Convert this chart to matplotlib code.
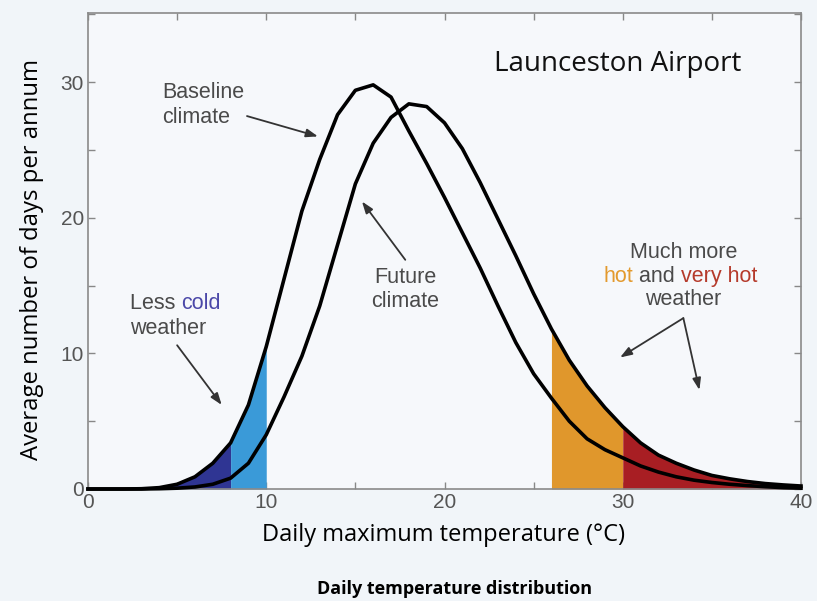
import numpy as np
import matplotlib.pyplot as plt
import matplotlib.ticker as mt

plt.rcParams['font.family'] = ['Liberation Sans', 'DejaVu Sans']

temp = np.arange(0, 41)
baseline = [0, 0, 0, 0.02, 0.1, 0.35, 0.9, 1.9, 3.4, 6.2,
            10.5, 15.5, 20.5, 24.3, 27.6, 29.4, 29.8, 28.9, 26.4, 24.0,
            21.5, 18.9, 16.3, 13.5, 10.8, 8.5, 6.7, 5.0, 3.7, 2.9,
            2.3, 1.7, 1.25, 0.9, 0.65, 0.48, 0.35, 0.25, 0.17, 0.1, 0.06]
future = [0, 0, 0, 0, 0.02, 0.06, 0.15, 0.35, 0.8, 1.9,
          4.0, 6.8, 9.8, 13.5, 18.0, 22.5, 25.5, 27.4, 28.4, 28.2,
          27.0, 25.1, 22.6, 19.9, 17.2, 14.4, 11.8, 9.5, 7.6, 6.0,
          4.6, 3.4, 2.5, 1.9, 1.4, 1.0, 0.75, 0.55, 0.4, 0.3, 0.22]

very_cold_max, cold_max = 8, 10
hot_min, very_hot_min = 26, 30

c_very_cold = '#2f3593'
c_cold = '#3a9ad8'
c_hot = '#e0972c'
c_very_hot = '#a81e23'
grey_txt = '#4a4a4a'

fig = plt.figure(figsize=(8.17, 6.01), dpi=100, facecolor='#f1f5f9')
ax = fig.add_axes([88/817, 1 - 489/601, (801 - 88)/817, (489 - 13)/601])
ax.set_facecolor('#f6f8fb')

b = np.array(baseline)
f = np.array(future)
ax.fill_between(temp, b, where=temp <= very_cold_max, color=c_very_cold, lw=0, zorder=2)
ax.fill_between(temp, b, where=(temp >= very_cold_max) & (temp <= cold_max), color=c_cold, lw=0, zorder=2)
ax.fill_between(temp, f, where=(temp >= hot_min) & (temp <= very_hot_min), color=c_hot, lw=0, zorder=2)
ax.fill_between(temp, f, where=temp >= very_hot_min, color=c_very_hot, lw=0, zorder=2)

ax.plot(temp, baseline, color='black', lw=2.6, zorder=3, clip_on=False)
ax.plot(temp, future, color='black', lw=2.6, zorder=3, clip_on=False)

ax.set_xlim(0, 40)
ax.set_ylim(0, 35.1)
ax.xaxis.set_major_locator(mt.MultipleLocator(10))
ax.xaxis.set_minor_locator(mt.MultipleLocator(5))
ax.yaxis.set_major_locator(mt.MultipleLocator(10))
ax.yaxis.set_minor_locator(mt.MultipleLocator(5))
ax.tick_params(which='both', direction='in', top=True, right=True, length=5,
               width=1, color='#888888', labelcolor='#555555', labelsize=15, pad=3)
for s in ax.spines.values():
    s.set_color('#8a8a8a')
    s.set_linewidth(1.2)

# annotations
tkw = dict(fontsize=15.5, color=grey_txt)
ax.text(4.15, 28.8, 'Baseline', ha='left', va='baseline', **tkw)
ax.text(4.15, 27.0, 'climate', ha='left', va='baseline', **tkw)
ax.text(17.8, 15.2, 'Future', ha='center', va='baseline', **tkw)
ax.text(17.8, 13.45, 'climate', ha='center', va='baseline', **tkw)

t = ax.text(2.36, 13.3, 'Less ', ha='left', va='baseline', **tkw)
ax.annotate('cold', xy=(1, 0), xycoords=t, va='bottom', fontsize=15.5, color='#4b48a8')
ax.text(2.36, 11.45, 'weather', ha='left', va='baseline', **tkw)

ax.text(33.4, 17.05, 'Much more', ha='center', va='baseline', **tkw)
t = ax.text(28.9, 15.3, 'hot', ha='left', va='baseline', fontsize=15.5, color='#e39a2e')
t = ax.annotate(' and ', xy=(1, 0), xycoords=t, va='bottom', **tkw)
ax.annotate('very hot', xy=(1, 0), xycoords=t, va='bottom', fontsize=15.5, color='#b53a2b')
ax.text(33.4, 13.6, 'weather', ha='center', va='baseline', **tkw)

akw = dict(arrowstyle='-|>,head_length=0.7,head_width=0.25', color='#333333', lw=1.3,
           shrinkA=0, shrinkB=0)
ax.annotate('', xy=(12.9, 26.0), xytext=(8.92, 27.5), arrowprops=akw)
ax.annotate('', xy=(15.37, 21.2), xytext=(17.8, 16.9), arrowprops=akw)
ax.annotate('', xy=(7.5, 6.2), xytext=(5.0, 10.6), arrowprops=akw)
ax.annotate('', xy=(29.85, 9.7), xytext=(33.4, 12.6), arrowprops=akw)
ax.annotate('', xy=(34.3, 7.3), xytext=(33.4, 12.6), arrowprops=akw)

ax.text(22.8, 30.8, 'Launceston Airport', ha='left', va='baseline',
        fontsize=20, family=['Open Sans', 'DejaVu Sans'], color='#111111')

fig.text(32/817, 1 - 259/601, 'Average number of days per annum', rotation=90,
         ha='center', va='center', fontsize=17.2, family=['Open Sans', 'DejaVu Sans'])
fig.text(443/817, 1 - 535/601, 'Daily maximum temperature (°C)',
         ha='center', va='center', fontsize=17, family=['Open Sans', 'DejaVu Sans'])
fig.text(455/817, 1 - 589/601, 'Daily temperature distribution',
         ha='center', va='center', fontsize=13, fontweight='bold',
         family=['Open Sans', 'DejaVu Sans'])

fig.savefig('out.png', dpi=100, facecolor=fig.get_facecolor())
